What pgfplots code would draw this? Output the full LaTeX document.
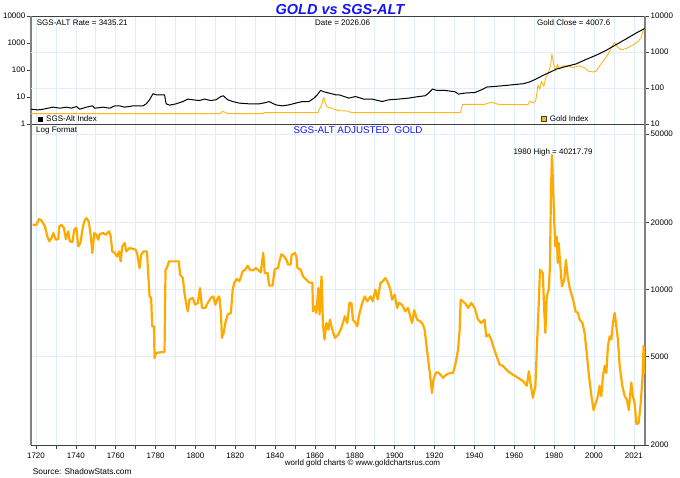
\documentclass[border=0pt]{standalone}
\usepackage{fontspec}
\setmainfont{Liberation Sans}
\usepackage{pgfplots}
\pgfplotsset{compat=1.18}
\definecolor{gridblue}{RGB}{222,238,250}
\definecolor{goldline}{RGB}{255,170,0}
\definecolor{goldtop}{RGB}{255,182,25}
\definecolor{axgray}{RGB}{128,128,128}
\definecolor{titleblue}{RGB}{20,20,245}
\pgfplotsset{
  base/.style={
    scale only axis, width=614pt, xmin=1717.5, xmax=2025.6,
    anchor=south west,
    ticklabel style={font=\fontsize{8}{9}\selectfont},
    yticklabel style={inner xsep=1.5pt},
    tick align=outside,
    major tick length=4pt,
    tick style={black!75, line width=0.6pt},
    grid style={gridblue, line width=0.6pt},
    separate axis lines,
    x axis line style={black!75, line width=0.8pt},
    y axis line style={axgray, line width=1.8pt},
    yminorticks=false, xminorticks=false,
  }
}
\begin{document}
\begin{tikzpicture}
\useasboundingbox (0,0) rectangle (680pt,478pt);
% ---------- top panel: frame, grids, left scale ----------
\begin{axis}[base, at={(31pt,354pt)}, height=108pt,
  ymode=log, ymin=1, ymax=10000,
  ytick={1,10,100,1000,10000}, yticklabels={1,10,100,1000,10000}, ytick pos=left,
  xtick={1720,1730,...,2020}, xticklabels={}, xmajorgrids, x tick style={draw=none},
  extra y ticks={21.544,464.16}, extra y tick labels={},
  extra y tick style={grid=major, tick style={draw=none}}]
\end{axis}
% ---------- top panel: gold index, right scale ----------
\begin{axis}[base, at={(31pt,354pt)}, height=108pt,
  ymode=log, ymin=10, ymax=10000, hide x axis, axis y line*=right,
  ytick={10,100,1000,10000}, yticklabels={10,100,1000,10000}]
\addplot[goldtop, line width=0.9pt, line join=round] table {
x y
1717.6 19.4
1812.5 19.4
1813.5 22.5
1815 21
1816.5 19.4
1834 19.4
1834.5 20.7
1861.5 20.7
1862.3 26
1863.3 34
1864.4 55
1865 40
1866 30
1868 28
1870.3 25
1872 23.5
1876 23
1878 21
1879 20.7
1933 20.7
1934 35
1945 35
1947 38
1948.5 41
1950 38
1952.7 34.6
1966.9 34.6
1967.7 43
1969.4 38.6
1970.8 45
1971.9 120
1972.8 91
1973.6 155
1974.8 113
1976.1 214
1977.4 296
1978.3 451
1978.9 880
1979.8 451
1980.8 296
1981.6 451
1982.8 330
1984.4 411
1986.9 411
1989.5 365
1992 411
1995.3 365
1997 296
1999.5 278
2001.2 296
2002.8 411
2005.3 625
2007 861
2008.7 1330
2010.4 1840
2012 1330
2013.7 1150
2016.2 1250
2018.7 1480
2020.4 1650
2022 1950
2023.7 2540
2024.9 4300
2025.4 4007.6
};
\end{axis}
% ---------- top panel: SGS-Alt index, left scale ----------
\begin{axis}[base, at={(31pt,354pt)}, height=108pt,
  ymode=log, ymin=1, ymax=10000, hide axis]
\addplot[black, line width=1pt, line join=round] table {
x y
1717.6 3.54
1721 3.33
1723.7 3.54
1726.7 3.95
1728.7 4.20
1732 3.85
1735.3 4.20
1737.8 3.85
1740.3 4.42
1742 3.54
1745.3 4.20
1748.3 4.69
1749.5 3.85
1753.7 4.20
1757 3.85
1759.5 4.69
1762 4.69
1764.5 4.20
1768.7 4.69
1773.7 4.69
1775.3 5.57
1777 7.86
1778.7 13.2
1780.3 12.1
1784.5 12.1
1785.3 5.57
1787 4.99
1790.3 5.57
1793.7 6.79
1796.2 8.35
1798.7 7.86
1802 7.40
1804.5 8.35
1807.8 7.40
1810.3 7.86
1812.8 10.4
1814 11.1
1816.2 7.86
1818.7 6.79
1822 5.92
1827 5.57
1832 5.57
1835.3 6.23
1837 6.79
1840.3 5.12
1843.7 4.69
1847 5.12
1850.3 5.92
1853.7 6.79
1857 6.79
1859.5 9.10
1861.2 12.1
1862.8 17.5
1864.5 15.6
1867 14.0
1870.3 12.1
1872 12.1
1877 9.10
1880.3 10.4
1884.5 8.35
1888.7 8.35
1893.7 6.79
1897 7.86
1902 8.35
1907 9.10
1912 10.4
1915.3 11.1
1917 14.0
1919 19.7
1921.2 17.5
1925.3 17.5
1930.3 15.6
1932 12.8
1935.3 14.0
1940.3 14.7
1943.7 18.6
1946.2 23.4
1950.3 24.6
1956 26.9
1964.4 31
1967.7 36
1971.1 47
1974.4 63
1977.8 82
1981.1 108
1986 135
1991 168
1996 245
2001 350
2006 530
2011 860
2016 1400
2021 2300
2025.4 3435.21
};
\end{axis}
% ---------- bottom panel ----------
\begin{axis}[base, at={(31pt,33pt)}, height=321pt,
  ymode=log, ymin=2000, ymax=55400,
  ytick={2000,5000,10000,20000,50000}, yticklabels={2000,5000,10000,20000,50000},
  ytick pos=right, xtick pos=left,
  xtick={1720,1730,...,2020},
  xticklabels={1720,,1740,,1760,,1780,,1800,,1820,,1840,,1860,,1880,,1900,,1920,,1940,,1960,,1980,,2000,,2021},
  xmajorgrids, ymajorgrids]
\addplot[goldline, line width=2.2pt, line join=round] table {
x y
1718.3 19530
1720.3 19530
1721.5 20700
1722.8 20400
1724.5 19190
1725.7 17300
1726.7 16440
1727.8 17020
1728.7 17920
1730 16730
1731.2 16850
1731.7 19190
1732.8 19530
1734 18930
1735 16850
1736.2 18230
1737 16440
1738.3 16340
1739.2 18550
1740.3 18900
1741.2 15610
1742.3 16170
1743.3 18550
1744.2 20210
1745.3 20930
1746.5 20210
1747.5 17300
1748.3 14580
1749.2 17920
1750.3 17610
1751.2 16730
1752 17740
1753.7 17920
1755 17610
1755.8 17920
1756.7 18230
1757.5 17300
1758.3 14820
1759.5 14580
1760.7 14070
1761.7 14820
1762.5 13370
1763.3 15610
1764.5 16170
1765.3 14820
1767 15350
1768.7 15200
1770 15090
1770.7 14580
1772 12480
1772.8 14320
1774 14820
1775.7 14820
1776.2 12270
1777 9310
1777.8 9160
1778.3 6830
1779.2 6830
1779.5 4920
1780.3 5190
1784.5 5240
1785 12270
1785.7 12480
1786.7 13370
1791.7 13370
1792.3 11650
1793.7 11260
1794.5 9640
1795.3 8700
1796.2 7970
1797 9000
1798.7 9160
1799.8 8540
1801.2 8700
1802.3 10150
1803.3 8260
1805 8260
1806.2 8700
1807.8 9160
1809 9310
1810 8540
1811.2 9160
1812 9310
1812.8 7840
1813.3 6060
1814.2 6380
1815 7070
1816.2 7710
1817.8 7840
1818.7 9980
1819.5 10690
1820.7 11160
1822 10870
1822.8 11370
1823.7 12060
1825 12270
1826.2 12790
1827.3 12270
1829 12180
1830.3 12480
1831.7 12180
1832.8 11930
1834 14580
1834.8 11860
1836.2 11860
1837 10400
1838.7 10400
1839.8 12330
1841.5 12480
1842.3 13560
1843.2 14400
1844.5 14070
1845.7 13560
1846.5 12930
1847.8 12930
1848.3 14320
1850 14580
1850.8 13840
1851.2 12480
1852.8 12270
1854 11440
1855.7 11060
1857 10760
1858.7 10690
1859 7970
1860 8390
1860.7 7840
1861.7 10150
1862.3 7710
1863.3 11440
1864 6960
1864.8 5960
1865.7 7070
1866.7 6600
1867.5 7320
1868.7 6600
1870 6060
1871.7 6270
1873.3 6720
1875 7580
1876.2 7070
1877.3 8700
1878.3 8700
1879 7320
1880.3 7070
1881.2 6830
1882 7580
1883.7 8700
1885 9310
1886.2 8840
1887.8 9310
1889 8840
1890.3 9980
1891.5 9000
1892.8 10690
1894 10870
1895.3 11260
1896.7 10690
1897.8 9980
1898.7 9000
1900 9480
1901.2 8260
1902 8700
1903.7 8540
1905.3 7970
1906.7 8260
1907.8 7580
1908.7 7070
1909.8 8070
1911.2 7320
1912.8 7190
1914.2 6960
1915 6600
1916.2 5370
1917 4680
1917.8 4090
1918.7 3430
1919.5 3950
1920.7 4230
1922 4230
1924.3 4010
1925.9 4140
1927.6 4210
1929.3 4210
1930.6 4680
1931.8 5370
1932.6 6600
1933.1 9000
1934.3 8840
1935.9 8540
1936.8 8260
1938.4 8700
1940.1 8260
1941.8 7320
1943.4 7070
1945.1 7320
1945.9 6150
1947.3 6270
1948.4 5960
1949.3 5580
1950.9 5100
1952.6 4600
1954.3 4530
1956.8 4290
1959.3 4140
1961.8 4010
1964.3 3880
1966.3 3690
1967.3 4290
1968.1 3820
1969.3 3260
1970.6 3690
1971.3 5370
1972.3 8700
1972.9 12270
1974.3 11860
1975.1 7840
1975.6 6380
1976.3 9310
1977.3 9980
1977.9 12700
1978.4 27060
1978.9 40217.79
1979.6 27060
1980.1 19880
1980.6 15610
1981.3 17300
1981.8 13150
1982.3 16170
1982.9 13560
1983.9 10320
1985.1 11060
1985.9 13560
1986.8 11440
1987.8 10150
1989.5 9000
1990.8 7970
1992.0 7840
1992.8 7320
1994.2 7070
1995.3 6380
1996.5 5010
1997.5 4090
1998.7 3320
1999.8 2870
2000.8 3070
2002.0 3320
2002.8 3690
2003.7 3320
2004.5 4090
2005.4 4530
2006.2 4210
2007.0 5580
2007.9 6150
2008.7 5960
2009.5 7070
2010.4 7840
2011.2 6830
2012.0 5960
2012.9 4530
2014.2 3690
2015.4 3320
2016.5 3200
2017.5 2870
2018.7 3820
2019.5 3320
2020.4 3070
2021.3 2480
2022.4 2510
2023.3 2980
2024.3 3950
2024.9 5580
2025.4 4160
};
\end{axis}
% ---------- texts ----------
\node[anchor=base, inner sep=0pt, text=titleblue, font=\fontsize{14.5}{16}\selectfont\bfseries\itshape] at (340pt,463pt) {GOLD vs SGS-ALT};
\begin{scope}[every node/.style={inner sep=0pt, font=\fontsize{8}{9}\selectfont}]
\node[anchor=base west] at (36.7pt,452pt) {SGS-ALT Rate = 3435.21};
\node[anchor=base west] at (315pt,452pt) {Date = 2026.06};
\node[anchor=base west] at (537pt,452pt) {Gold Close = 4007.6};
\node[anchor=base west] at (37.3pt,356pt) {\textcolor{black}{\rule{5.4pt}{5.4pt}}\hspace{3.3pt}SGS-Alt Index};
\node[anchor=base west] at (541pt,356.5pt) {\setlength{\fboxsep}{0pt}\setlength{\fboxrule}{0.6pt}\fcolorbox{black!75}{goldtop}{\rule{0pt}{4.4pt}\hspace{4.4pt}}\hspace{3pt}Gold Index};
\node[anchor=base west] at (36pt,345.5pt) {Log Format};
\node[anchor=base] at (553pt,323pt) {1980 High = 40217.79};
\node[anchor=base] at (362.5pt,12pt) {world gold charts © www.goldchartsrus.com};
\node[anchor=base west, font=\fontsize{8.3}{9}\selectfont] at (32.7pt,3pt) {Source: ShadowStats.com};
\end{scope}
\node[anchor=base, inner sep=0pt, text=titleblue, font=\fontsize{9.8}{11}\selectfont] at (358pt,344pt) {SGS-ALT ADJUSTED\ \ GOLD};
\end{tikzpicture}
\end{document}
